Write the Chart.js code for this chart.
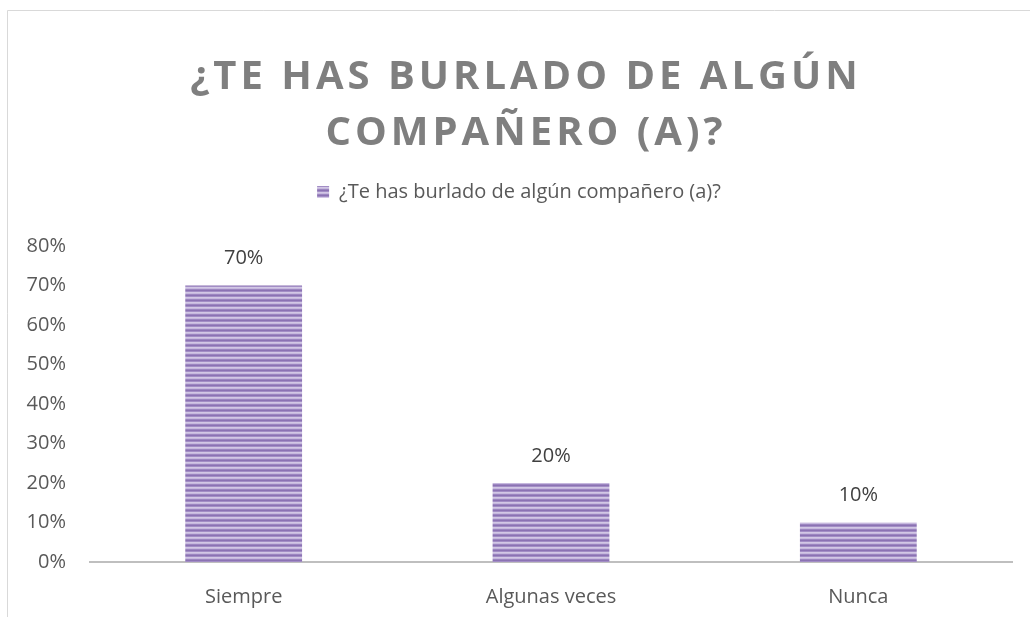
<!DOCTYPE html>
<html>
<head>
<meta charset="utf-8">
<title>¿Te has burlado de algún compañero (a)?</title>
<script src="https://cdn.jsdelivr.net/npm/chart.js@4.4.1/dist/chart.umd.min.js"></script>
<style>
  html, body { margin: 0; padding: 0; background: #fff; }
  #wrap { position: relative; width: 1031px; height: 617px; }
</style>
</head>
<body>
<div id="wrap"><canvas id="chart"></canvas></div>
<script>
const categories = ['Siempre', 'Algunas veces', 'Nunca'];
const values = [0.70, 0.20, 0.10];
const valueLabels = ['70%', '20%', '10%'];
const tickLabels = ['0%', '10%', '20%', '30%', '40%', '50%', '60%', '70%', '80%'];
const seriesName = '¿Te has burlado de algún compañero (a)?';
const titleLines = ['¿TE HAS BURLADO DE ALGÚN', 'COMPAÑERO (A)?'];

Chart.defaults.font.family = "'Open Sans', sans-serif";

// horizontal purple stripes like the Excel fill
function stripes() {
    const c = document.createElement('canvas');
    c.width = 4;
    c.height = 5;
    const g = c.getContext('2d');
    const rows = ['#8b72b3', '#a28dc5', '#d2c7e5', '#c6b8de', '#9c86c0'];
    rows.forEach((col, i) => {
        g.fillStyle = col;
        g.fillRect(0, i, 4, 1);
    });
    return g.createPattern(c, 'repeat');
}
const fill = stripes();

const frame = {
    id: 'frame',
    beforeDraw(chart) {
        const ctx = chart.ctx;
        ctx.save();
        ctx.fillStyle = '#fff';
        ctx.fillRect(0, 0, chart.width, chart.height);
        ctx.strokeStyle = '#d9d9d9';
        ctx.lineWidth = 1;
        ctx.beginPath();
        ctx.moveTo(7.5, chart.height);
        ctx.lineTo(7.5, 10.5);
        ctx.lineTo(1030, 10.5);
        ctx.stroke();
        ctx.restore();
    }
};

// the title in the original is letter-spaced and sits a bit right of the canvas centre
const spacedTitle = {
    id: 'spacedTitle',
    afterInit(chart) {
        const block = chart.titleBlock;
        if (!block) return;
        const draw = block.draw.bind(block);
        block.draw = function () {
            chart.ctx.save();
            chart.ctx.letterSpacing = '4px';
            chart.ctx.translate(7, 0);
            draw();
            chart.ctx.restore();
        };
    }
};

const barLabels = {
    id: 'barLabels',
    afterDatasetsDraw(chart) {
        const ctx = chart.ctx;
        const meta = chart.getDatasetMeta(0);
        ctx.save();
        ctx.fillStyle = '#404040';
        ctx.font = "20px 'Open Sans', sans-serif";
        ctx.textAlign = 'center';
        ctx.textBaseline = 'middle';
        meta.data.forEach((bar, i) => {
            ctx.fillText(valueLabels[i], bar.x, bar.y - 27);
        });
        ctx.restore();
    }
};

const ctx = document.getElementById('chart').getContext('2d');
new Chart(ctx, {
    type: 'bar',
    data: {
        labels: categories,
        datasets: [{
            label: seriesName,
            data: values,
            backgroundColor: fill,
            borderWidth: 0,
            categoryPercentage: 1,
            barPercentage: 0.38
        }]
    },
    options: {
        responsive: true,
        maintainAspectRatio: false,
        animation: false,
        layout: { padding: { left: 26, right: 19, top: 10, bottom: 0 } },
        plugins: {
            title: {
                display: true,
                text: titleLines,
                color: '#7f7f7f',
                font: { size: 40, weight: 'bold', lineHeight: 1.4 },
                padding: { top: 40, bottom: 0 }
            },
            subtitle: {
                display: true,
                text: '',
                weight: 500,
                font: { size: 34, lineHeight: 1 },
                padding: 0
            },
            legend: {
                labels: {
                    boxWidth: 12,
                    boxHeight: 12,
                    padding: 20,
                    color: '#595959',
                    font: { size: 20 }
                }
            },
            tooltip: { enabled: false }
        },
        scales: {
            x: {
                grid: { display: false, drawTicks: false },
                border: { color: '#bfbfbf', width: 2 },
                ticks: { color: '#595959', font: { size: 20 }, padding: 23 },
                afterFit: (scale) => { scale.height = 55; }
            },
            y: {
                min: 0,
                max: 0.8,
                grid: { display: false, drawTicks: false },
                border: { display: false },
                ticks: {
                    stepSize: 0.1,
                    color: '#595959',
                    font: { size: 20 },
                    padding: 24,
                    callback: (v, i) => tickLabels[i]
                },
                afterFit: (scale) => { scale.width = 64; }
            }
        }
    },
    plugins: [frame, spacedTitle, barLabels]
});
</script>
</body>
</html>
